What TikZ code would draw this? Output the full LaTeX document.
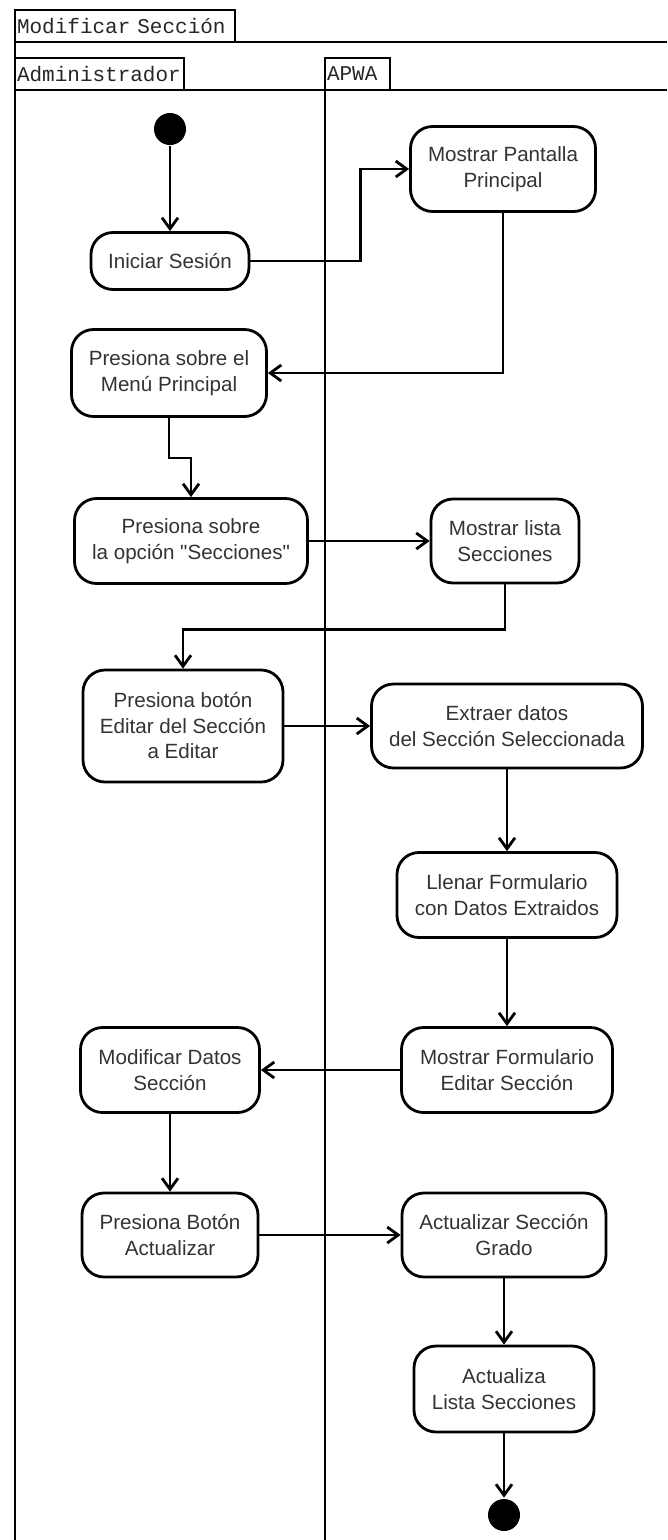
\documentclass[tikz,border=0pt]{standalone}
\usepackage{fontspec}
\setmainfont{Liberation Sans}
\setmonofont{Liberation Mono}
\newfontfamily\letraaccion{Liberation Sans}
\usetikzlibrary{arrows.meta}

\begin{document}
\begin{tikzpicture}[x=1pt, y=-1pt, line width=2.8pt,
    >={Straight Barb[length=11pt,width=16pt]},
    accion/.style={draw, rounded corners=22pt, align=center, text=black!80,
        font=\letraaccion\fontsize{20.6}{25.5}\selectfont},
    punto/.style={circle, fill=black, inner sep=0pt, minimum size=32pt},
    cab/.style={draw, anchor=north west, inner xsep=2pt, inner ysep=0pt, outer sep=0pt,
        minimum height=32pt, align=left, text=black!85,
        font=\ttfamily\fontsize{21}{24}\selectfont}]

    \useasboundingbox (0,0) rectangle (667,1540);

    % marco y calles
    \node[cab, text width=216pt] (titulo) at (15,10) {Modificar Sección};
    \node[cab, text width=165pt] (admin) at (15,58) {Administrador};
    \node[cab, text width=61pt] (apwa) at (325,58) {APWA};

    \draw (titulo.south east) -- (667,42);
    \draw (titulo.south west) -- (15,1540);
    \draw (admin.south east) -- (apwa.south west);
    \draw (apwa.south east) -- (667,90);
    \draw (apwa.north west) -- (325,1540);

    % actividades
    \node[punto] (inicio) at (170,129) {};
    \node[accion, minimum width=158pt, minimum height=57pt] (iniciar) at (170,261) {Iniciar Sesión};
    \node[accion, minimum width=185pt, minimum height=85pt] (pantalla) at (503,169) {Mostrar Pantalla\\Principal};
    \node[accion, minimum width=195pt, minimum height=87pt] (menu) at (169,373) {Presiona sobre el\\Menú Principal};
    \node[accion, minimum width=233pt, minimum height=85pt] (opcion) at (191,541) {Presiona sobre\\la opción "Secciones"};
    \node[accion, minimum width=148pt, minimum height=84pt] (lista) at (505,541) {Mostrar lista\\Secciones};

    \node[accion, minimum width=200pt, minimum height=112pt] (editar) at (183,726) {Presiona botón\\Editar del Sección\\a Editar};
    \node[accion, minimum width=271pt, minimum height=84pt] (extraer) at (507,726) {Extraer datos\\del Sección Seleccionada};
    \node[accion, minimum width=220pt, minimum height=85pt] (llenar) at (507,895) {Llenar Formulario\\con Datos Extraidos};
    \node[accion, minimum width=211pt, minimum height=85pt] (formulario) at (507,1070) {Mostrar Formulario\\Editar Sección};
    \node[accion, minimum width=179pt, minimum height=85pt] (modificar) at (170,1070) {Modificar Datos\\Sección};

    \node[accion, minimum width=176pt, minimum height=84pt] (actualizar) at (170,1235) {Presiona Botón\\Actualizar};
    \node[accion, minimum width=204pt, minimum height=84pt] (grado) at (504,1235) {Actualizar Sección\\Grado};
    \node[accion, minimum width=180pt, minimum height=86pt] (refresca) at (504,1389) {Actualiza\\Lista Secciones};
    \node[punto] (fin) at (504,1515) {};

    % flujos
    \draw[->] (inicio) -- (iniciar);
    \draw[->] (iniciar.east) -- ++(110,0) |- (pantalla.west);
    \draw[->] (pantalla.south) |- (menu.east);
    \draw[->] (menu.south) -- ++(0,40) -| (opcion.north);
    \draw[->] (opcion) -- (lista);
    \draw[->] (lista.south) -- ++(0,45) -| (editar.north);
    \draw[->] (editar) -- (extraer);
    \draw[->] (extraer) -- (llenar);
    \draw[->] (llenar) -- (formulario);
    \draw[->] (formulario) -- (modificar);
    \draw[->] (modificar) -- (actualizar);
    \draw[->] (actualizar) -- (grado);
    \draw[->] (grado) -- (refresca);
    \draw[->] (refresca) -- (fin);

\end{tikzpicture}
\end{document}
